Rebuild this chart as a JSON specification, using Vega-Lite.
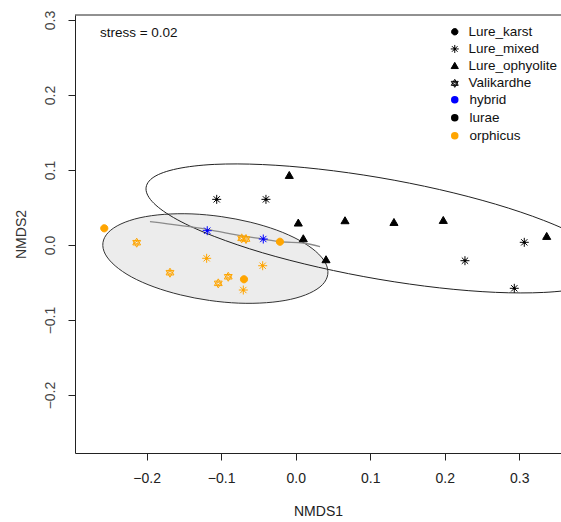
{
  "$schema": "https://vega.github.io/schema/vega-lite/v6.json",
  "width": 486,
  "height": 438,
  "autosize": {"type": "none"},
  "padding": {"left": 75, "top": 15, "right": 0, "bottom": 69},
  "background": "white",
  "config": {
    "view": {"stroke": null},
    "font": "Liberation Sans",
    "axis": {"grid": false, "domainColor": "#222", "tickColor": "#222", "labelColor": "#222", "titleColor": "#222", "labelFont": "Liberation Sans", "titleFont": "Liberation Sans", "titleFontWeight": 400, "labelFontWeight": 400, "labelFontSize": 14, "titleFontSize": 14, "tickSize": 7, "domainWidth": 1, "tickWidth": 1},
    "legend": {"labelFont": "Liberation Sans", "labelFontSize": 13.5, "labelColor": "#111", "labelFontWeight": 400}
  },
  "datasets": {
    "points": [
      {"x": -0.2569, "y": 0.0223, "pop": "Lure_karst", "species": "orphicus"},
      {"x": -0.0211, "y": 0.0044, "pop": "Lure_karst", "species": "orphicus"},
      {"x": -0.0694, "y": -0.0457, "pop": "Lure_karst", "species": "orphicus"},
      {"x": -0.1060, "y": 0.0609, "pop": "Lure_mixed", "species": "lurae"},
      {"x": -0.0399, "y": 0.0609, "pop": "Lure_mixed", "species": "lurae"},
      {"x": 0.2272, "y": -0.0209, "pop": "Lure_mixed", "species": "lurae"},
      {"x": 0.3068, "y": 0.0036, "pop": "Lure_mixed", "species": "lurae"},
      {"x": 0.2934, "y": -0.0577, "pop": "Lure_mixed", "species": "lurae"},
      {"x": -0.1187, "y": 0.0191, "pop": "Lure_mixed", "species": "hybrid"},
      {"x": -0.0435, "y": 0.0080, "pop": "Lure_mixed", "species": "hybrid"},
      {"x": -0.1195, "y": -0.0177, "pop": "Lure_mixed", "species": "orphicus"},
      {"x": -0.0443, "y": -0.0276, "pop": "Lure_mixed", "species": "orphicus"},
      {"x": -0.0703, "y": -0.0600, "pop": "Lure_mixed", "species": "orphicus"},
      {"x": -0.0086, "y": 0.0924, "pop": "Lure_ophyolite", "species": "lurae"},
      {"x": 0.0035, "y": 0.0289, "pop": "Lure_ophyolite", "species": "lurae"},
      {"x": 0.0102, "y": 0.0080, "pop": "Lure_ophyolite", "species": "lurae"},
      {"x": 0.0407, "y": -0.0200, "pop": "Lure_ophyolite", "species": "lurae"},
      {"x": 0.0662, "y": 0.0320, "pop": "Lure_ophyolite", "species": "lurae"},
      {"x": 0.1319, "y": 0.0297, "pop": "Lure_ophyolite", "species": "lurae"},
      {"x": 0.1981, "y": 0.0324, "pop": "Lure_ophyolite", "species": "lurae"},
      {"x": 0.3369, "y": 0.0111, "pop": "Lure_ophyolite", "species": "lurae"},
      {"x": -0.2134, "y": 0.0031, "pop": "Valikardhe", "species": "orphicus"},
      {"x": -0.1687, "y": -0.0369, "pop": "Valikardhe", "species": "orphicus"},
      {"x": -0.0725, "y": 0.0089, "pop": "Valikardhe", "species": "orphicus"},
      {"x": -0.0667, "y": 0.0080, "pop": "Valikardhe", "species": "orphicus"},
      {"x": -0.0905, "y": -0.0423, "pop": "Valikardhe", "species": "orphicus"},
      {"x": -0.1039, "y": -0.0511, "pop": "Valikardhe", "species": "orphicus"}
    ],
    "grayEllipse": [
      {"i": 0, "x": 0.0431, "y": -0.0391}, {"i": 1, "x": 0.0360, "y": -0.0528}, {"i": 2, "x": 0.0189, "y": -0.0641},
      {"i": 3, "x": -0.0067, "y": -0.0724}, {"i": 4, "x": -0.0392, "y": -0.0769}, {"i": 5, "x": -0.0764, "y": -0.0775},
      {"i": 6, "x": -0.1157, "y": -0.0739}, {"i": 7, "x": -0.1545, "y": -0.0665}, {"i": 8, "x": -0.1901, "y": -0.0559},
      {"i": 9, "x": -0.2201, "y": -0.0427}, {"i": 10, "x": -0.2423, "y": -0.0277}, {"i": 11, "x": -0.2556, "y": -0.0121},
      {"i": 12, "x": -0.2587, "y": 0.0031}, {"i": 13, "x": -0.2515, "y": 0.0168}, {"i": 14, "x": -0.2345, "y": 0.0281},
      {"i": 15, "x": -0.2089, "y": 0.0364}, {"i": 16, "x": -0.1764, "y": 0.0409}, {"i": 17, "x": -0.1392, "y": 0.0415},
      {"i": 18, "x": -0.0999, "y": 0.0379}, {"i": 19, "x": -0.0611, "y": 0.0305}, {"i": 20, "x": -0.0255, "y": 0.0199},
      {"i": 21, "x": 0.0046, "y": 0.0065}, {"i": 22, "x": 0.0267, "y": -0.0083}, {"i": 23, "x": 0.0400, "y": -0.0239}
    ],
    "bigEllipse": [
      {"i": 0, "x": 0.4246, "y": -0.0307}, {"i": 1, "x": 0.4140, "y": -0.0464}, {"i": 2, "x": 0.3827, "y": -0.0575},
      {"i": 3, "x": 0.3329, "y": -0.0632}, {"i": 4, "x": 0.2682, "y": -0.0631}, {"i": 5, "x": 0.1928, "y": -0.0571},
      {"i": 6, "x": 0.1118, "y": -0.0457}, {"i": 7, "x": 0.0309, "y": -0.0297}, {"i": 8, "x": -0.0446, "y": -0.0103},
      {"i": 9, "x": -0.1093, "y": 0.0115}, {"i": 10, "x": -0.1591, "y": 0.0339}, {"i": 11, "x": -0.1903, "y": 0.0556},
      {"i": 12, "x": -0.2009, "y": 0.0749}, {"i": 13, "x": -0.1903, "y": 0.0907}, {"i": 14, "x": -0.1591, "y": 0.1017},
      {"i": 15, "x": -0.1093, "y": 0.1075}, {"i": 16, "x": -0.0446, "y": 0.1073}, {"i": 17, "x": 0.0309, "y": 0.1013},
      {"i": 18, "x": 0.1118, "y": 0.0900}, {"i": 19, "x": 0.1928, "y": 0.0740}, {"i": 20, "x": 0.2682, "y": 0.0545},
      {"i": 21, "x": 0.3329, "y": 0.0328}, {"i": 22, "x": 0.3827, "y": 0.0104}, {"i": 23, "x": 0.4140, "y": -0.0113}
    ],
    "curve": [
      {"i": 0, "x": -0.1956, "y": 0.0311}, {"i": 1, "x": -0.1195, "y": 0.0209}, {"i": 2, "x": -0.0658, "y": 0.0111},
      {"i": 3, "x": -0.0439, "y": 0.0080}, {"i": 4, "x": -0.0211, "y": 0.0044}, {"i": 5, "x": 0.0098, "y": 0.0027},
      {"i": 6, "x": 0.0326, "y": -0.0023}
    ],
    "note": [{"x": -0.2627, "y": 0.2823, "label": "stress = 0.02"}]
  },
  "encoding": {
    "x": {"field": "x", "type": "quantitative", "scale": {"domain": [-0.2962, 0.3561], "nice": false, "zero": false},
      "axis": {"orient": "bottom", "values": [-0.2, -0.1, 0, 0.1, 0.2, 0.3], "format": ".1f", "title": "NMDS1", "labelPadding": 11, "titlePadding": 19, "labelFlush": false}},
    "y": {"field": "y", "type": "quantitative", "scale": {"domain": [-0.2773, 0.3067], "nice": false, "zero": false},
      "axis": {"values": [-0.2, -0.1, 0, 0.1, 0.2, 0.3], "format": ".1f", "title": "NMDS2", "labelAngle": -90, "labelAlign": "center", "labelBaseline": "alphabetic", "labelPadding": 14, "titlePadding": 15, "labelFlush": false, "labelColor": "#444", "titleColor": "#333"}}
  },
  "layer": [
    {
      "data": {"name": "grayEllipse"},
      "mark": {"type": "line", "interpolate": "cardinal-closed", "fill": "#ECECEC", "stroke": "#333", "strokeWidth": 1},
      "encoding": {"order": {"field": "i", "type": "quantitative"}}
    },
    {
      "data": {"name": "bigEllipse"},
      "mark": {"type": "line", "interpolate": "cardinal-closed", "stroke": "#222", "strokeWidth": 1, "clip": true},
      "encoding": {"order": {"field": "i", "type": "quantitative"}}
    },
    {
      "data": {"name": "curve"},
      "mark": {"type": "line", "interpolate": "monotone", "stroke": "#8a8a8a", "strokeWidth": 1.3},
      "encoding": {"order": {"field": "i", "type": "quantitative"}}
    },
    {
      "data": {"name": "note"},
      "mark": {"type": "text", "align": "left", "baseline": "middle", "fontSize": 13.5, "font": "Liberation Sans", "color": "#111"},
      "encoding": {"text": {"field": "label"}}
    },
    {
      "data": {"values": [{"top": 0.3067}]},
      "mark": {"type": "rule", "color": "#222", "strokeWidth": 1},
      "encoding": {"x": null, "y": {"field": "top", "type": "quantitative"}}
    },
    {
      "data": {"name": "points"},
      "mark": {"type": "point", "filled": true, "size": 81, "strokeWidth": 1, "opacity": 1},
      "encoding": {
        "shape": {"field": "pop", "type": "nominal",
          "scale": {"domain": ["Lure_karst", "Lure_mixed", "Lure_ophyolite", "Valikardhe"],
            "range": ["M0.8,0A0.8,0.8,0,1,1,-0.8,0A0.8,0.8,0,1,1,0.8,0Z",
                      "M-1,0L1,0M0,-1L0,1M-0.7,-0.7L0.7,0.7M-0.7,0.7L0.7,-0.7M0.22,0A0.22,0.22,0,1,1,-0.22,0A0.22,0.22,0,1,1,0.22,0Z",
                      "M0,-0.95L0.9,0.6L-0.9,0.6Z",
                      "M0,-1L0.87,0.5M0.87,0.5L-0.87,0.5M-0.87,0.5L0,-1M0,1L0.87,-0.5M0.87,-0.5L-0.87,-0.5M-0.87,-0.5L0,1M0.3,0L0.15,0.26M0.15,0.26L-0.15,0.26M-0.15,0.26L-0.3,0M-0.3,0L-0.15,-0.26M-0.15,-0.26L0.15,-0.26M0.15,-0.26L0.3,0"]},
          "legend": {"orient": "none", "legendX": 373, "legendY": 10, "title": null, "symbolFillColor": "black", "symbolStrokeColor": "black", "symbolSize": 64, "symbolStrokeWidth": 1, "labelOffset": 7, "rowPadding": 2.2, "padding": 0}},
        "color": {"field": "species", "type": "nominal",
          "scale": {"domain": ["hybrid", "lurae", "orphicus"], "range": ["#0000FF", "#000000", "#FFA500"]},
          "legend": {"orient": "none", "legendX": 373, "legendY": 78, "title": null, "symbolType": "circle", "symbolSize": 36, "labelOffset": 8, "rowPadding": 3, "padding": 0}},
        "stroke": {"field": "species", "type": "nominal",
          "scale": {"domain": ["hybrid", "lurae", "orphicus"], "range": ["#0000FF", "#000000", "#FFA500"]},
          "legend": null}
      }
    }
  ]
}
